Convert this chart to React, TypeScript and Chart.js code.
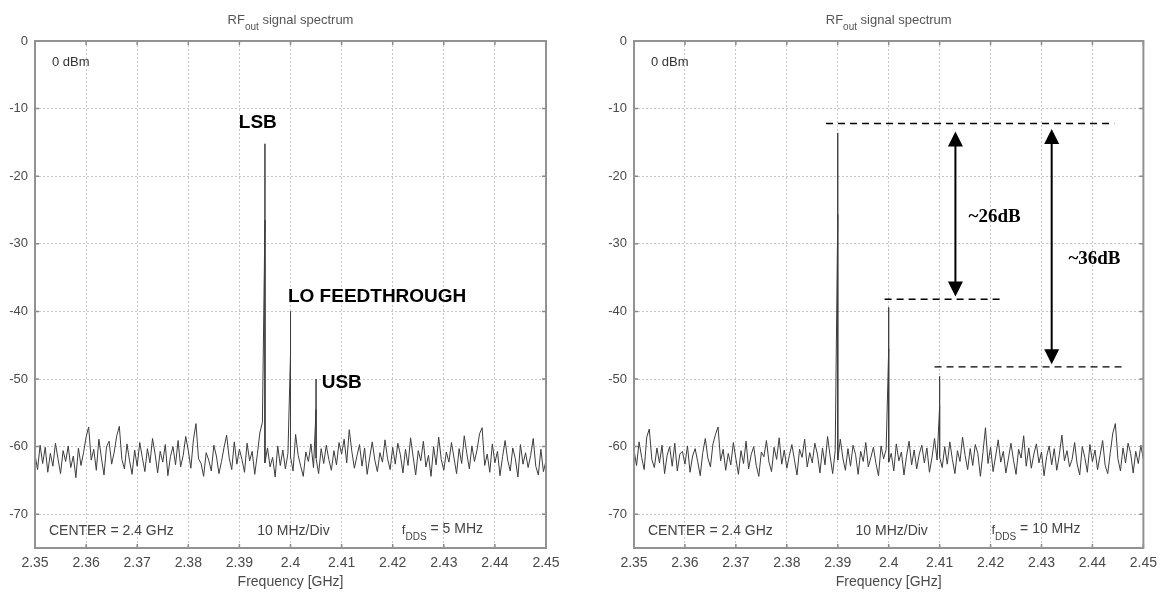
import React, { useEffect, useRef } from "react";
import { Chart, registerables } from "chart.js";

Chart.register(...registerables);

// ---------- data ----------
const FREQ_MIN = 2.35;
const FREQ_MAX = 2.45;
const FREQ_STEP = 0.0005;
const DB_MIN = -75;
const DB_MAX = 0;

const xTickValues = [2.35, 2.36, 2.37, 2.38, 2.39, 2.4, 2.41, 2.42, 2.43, 2.44, 2.45];
const yTickValues = [0, -10, -20, -30, -40, -50, -60, -70];

// noise floor, left spectrum (fDDS = 5 MHz), one value per 0.5 MHz from 2.35 GHz
const leftNoise = [
  -61.2, -63.4, -59.8, -62.5, -60.1, -63.8, -61.0, -62.9, -59.5, -61.8, -64.0, -60.6, -62.2, -59.9, -63.1, -61.4, -64.6, -60.2, -62.8, -60.9,
  -58.6, -57.1, -62.0, -60.4, -63.5, -58.9, -61.7, -64.2, -60.0, -59.2, -62.6, -60.8, -58.4, -57.0, -61.9, -63.3, -59.6, -62.1, -64.1, -60.5,
  -62.9, -59.4, -61.6, -63.7, -60.3, -62.4, -58.8, -61.1, -63.9, -60.7, -62.3, -59.7, -64.3, -61.5, -60.0, -62.7, -59.1, -63.0, -61.3, -58.5,
  -60.6, -63.2, -59.0, -56.6, -61.8, -62.5, -64.4, -60.9, -62.0, -63.6, -59.8, -61.4, -64.0, -62.2, -60.1, -58.3, -61.7, -63.4, -59.3, -62.6,
  -60.4, -61.9, -63.8, -59.5, -62.1, -60.7, -64.1, -61.2, -58.0, -56.4, -62.4, -60.2, -63.0, -61.6, -64.5, -59.9, -62.8, -60.5, -63.3, -61.0,
  -61.5, -63.6, -58.2, -61.3, -62.9, -64.4, -60.8, -62.2, -59.6, -63.1, -61.7, -64.0, -60.3, -62.5, -59.8, -61.9, -63.5, -60.6, -62.7, -59.4,
  -61.1, -58.9, -62.4, -57.5, -60.7, -63.2, -61.4, -59.7, -62.9, -60.2, -64.1, -61.6, -59.3, -62.0, -63.7, -60.9, -62.3, -59.0, -61.8, -63.4,
  -60.1, -62.6, -59.5, -61.2, -63.9, -60.4, -62.8, -58.7, -61.5, -64.2, -60.6, -62.1, -59.2, -63.0, -61.3, -64.4, -60.0, -62.7, -58.6, -61.9,
  -63.5, -60.8, -62.3, -59.4, -61.7, -64.0, -60.3, -62.5, -58.4, -61.0, -63.3, -59.9, -62.2, -60.5, -58.1, -57.2, -62.8, -61.1, -63.8, -59.6,
  -62.4, -60.7, -64.3, -61.5, -59.1, -62.0, -63.6, -60.2, -61.8, -64.5, -59.7, -62.6, -60.9, -63.1, -61.3, -58.8, -62.9, -64.2, -60.4, -63.7,
  -62.1,
];

// noise floor, right spectrum (fDDS = 10 MHz)
const rightNoise = [
  -60.5, -62.8, -59.3, -61.6, -63.4, -58.6, -57.4, -61.9, -63.1, -60.2, -62.4, -59.8, -64.0, -61.3, -60.0, -62.9, -59.5, -63.6, -61.1, -60.7,
  -62.6, -59.9, -63.8, -61.4, -60.3, -62.2, -64.3, -60.9, -58.8, -61.7, -63.0, -59.6, -58.2, -57.1, -62.1, -60.4, -63.5, -61.0, -62.7, -59.4,
  -61.8, -64.1, -60.6, -62.5, -59.2, -63.3, -61.2, -60.0, -62.8, -64.4, -60.8, -61.5, -59.1, -62.3, -63.7, -60.1, -61.9, -58.7, -62.6, -60.5,
  -63.2, -61.3, -59.7, -62.0, -64.2, -60.4, -61.6, -58.9, -63.0, -60.9, -62.4, -59.5, -61.1, -63.9, -60.2, -62.7, -58.5, -61.4, -64.0, -60.6,
  -62.0, -58.9, -61.7, -63.5, -60.3, -62.9, -59.8, -61.2, -64.1, -60.7, -62.2, -59.4, -63.0, -61.6, -60.1, -62.5, -64.3, -59.9, -61.8, -60.4,
  -62.3, -61.0, -63.6, -59.6, -62.1, -60.8, -64.2, -61.4, -59.2, -62.7, -60.5, -63.3, -61.1, -59.8, -62.4, -60.2, -63.8, -61.6, -58.8, -62.0,
  -61.5, -63.1, -60.0, -62.6, -59.3, -61.9, -64.0, -60.6, -62.2, -58.6, -61.3, -63.4, -60.3, -62.8, -59.7, -61.0, -64.4, -60.9, -57.2, -62.5,
  -60.1, -63.7, -61.4, -59.0, -62.3, -60.7, -63.9, -61.8, -59.5, -62.0, -64.1, -60.4, -61.7, -58.4, -62.9, -60.2, -63.2, -61.1, -59.6, -62.4,
  -60.8, -64.3, -61.5, -59.9, -62.7, -60.3, -63.5, -61.2, -58.3, -62.1, -60.6, -63.0, -61.9, -59.4, -62.6, -64.2, -60.0, -61.6, -63.8, -59.7,
  -62.2, -60.5, -63.4, -61.3, -59.1, -62.8, -64.0, -60.9, -58.0, -56.6, -61.8, -63.6, -60.2, -62.4, -59.5, -61.0, -63.9, -60.7, -62.5, -59.8,
  -61.9,
];

// spectral lines: frequency (GHz), peak level (dBm), level of the denser lower part (dBm)
const leftPeakFreq = [2.395, 2.4, 2.405];
const leftPeakTop = [-15.2, -40.0, -50.0];
const leftPeakMid = [-26.5, -46.3, -54.5];

const rightPeakFreq = [2.39, 2.4, 2.41];
const rightPeakTop = [-13.6, -39.4, -49.6];
const rightPeakMid = [-25.7, -45.5, -54.0];

// left annotations (data coordinates)
const leftLabelText = ["LSB", "LO FEEDTHROUGH", "USB"];
const leftLabelFreq = [2.3936, 2.3995, 2.4061];
const leftLabelDb = [-12.1, -37.8, -50.5];

// right annotations (data coordinates)
const rightRefLevel = [-12.2, -38.2, -48.2];
const rightRefFrom = [2.3877, 2.3992, 2.409];
const rightRefTo = [2.4443, 2.4227, 2.4459];
const rightArrowFreq = [2.4131, 2.432];
const rightArrowFrom = [-13.4, -13.0];
const rightArrowTo = [-37.8, -47.8];
const rightDeltaText = ["~26dB", "~36dB"];
const rightDeltaFreq = [2.4208, 2.4404];
const rightDeltaDb = [-26.1, -32.3];

// ---------- helpers ----------
const SANS = '"Liberation Sans", Arial, sans-serif';
const SERIF = '"Liberation Serif", "Times New Roman", serif';
const TEXT = "#4a4a4a";

function buildTrace(noise: number[], pf: number[], pt: number[], pm: number[]) {
  const pts: { x: number; y: number }[] = [];
  noise.forEach((v, i) => {
    const x = FREQ_MIN + i * FREQ_STEP;
    const k = pf.findIndex((f) => Math.abs(f - x) < FREQ_STEP / 2);
    if (k >= 0) {
      pts.push({ x, y: pm[k] }, { x, y: pt[k] }, { x, y: pm[k] }, { x, y: v });
    } else {
      pts.push({ x, y: v });
    }
  });
  return pts;
}

type Part = { t: string; size: number; dy: number };

function drawParts(
  ctx: CanvasRenderingContext2D,
  parts: Part[],
  x: number,
  y: number,
  align: "left" | "center" | "right",
  color: string,
  family: string,
  weight = "normal"
) {
  let total = 0;
  const widths = parts.map((p) => {
    ctx.font = `${weight} ${p.size}px ${family}`;
    const w = ctx.measureText(p.t).width;
    total += w;
    return w;
  });
  let cx = align === "center" ? x - total / 2 : align === "right" ? x - total : x;
  ctx.fillStyle = color;
  ctx.textBaseline = "middle";
  ctx.textAlign = "left";
  parts.forEach((p, i) => {
    ctx.font = `${weight} ${p.size}px ${family}`;
    ctx.fillText(p.t, cx, y + p.dy);
    cx += widths[i];
  });
}

function drawFrame(chart: any) {
  const { ctx, chartArea: ca, scales } = chart;
  ctx.save();
  // inward tick marks
  ctx.strokeStyle = "#8a8a8a";
  ctx.lineWidth = 1.5;
  ctx.beginPath();
  xTickValues.forEach((v) => {
    const px = scales.x.getPixelForValue(v);
    ctx.moveTo(px, ca.bottom);
    ctx.lineTo(px, ca.bottom - 4);
    ctx.moveTo(px, ca.top);
    ctx.lineTo(px, ca.top + 4);
  });
  yTickValues.forEach((v) => {
    const py = scales.y.getPixelForValue(v);
    ctx.moveTo(ca.left, py);
    ctx.lineTo(ca.left + 4, py);
    ctx.moveTo(ca.right, py);
    ctx.lineTo(ca.right - 4, py);
  });
  ctx.stroke();
  // box
  ctx.strokeStyle = "#929292";
  ctx.lineWidth = 2;
  ctx.strokeRect(ca.left, ca.top, ca.right - ca.left, ca.bottom - ca.top);
  // title
  const cx = (ca.left + ca.right) / 2;
  drawParts(
    ctx,
    [
      { t: "RF", size: 13, dy: 0 },
      { t: "out", size: 10, dy: 7 },
      { t: " signal spectrum", size: 13, dy: 0 },
    ],
    cx,
    20,
    "center",
    "#555",
    SANS
  );
  ctx.restore();
}

function drawInfo(chart: any, dds: string) {
  const { ctx, chartArea: ca } = chart;
  ctx.save();
  const cx = (ca.left + ca.right) / 2;
  const yb = ca.bottom - 17;
  drawParts(ctx, [{ t: "0 dBm", size: 13, dy: 0 }], ca.left + 17, ca.top + 21, "left", "#333", SANS);
  drawParts(ctx, [{ t: "CENTER = 2.4 GHz", size: 14, dy: 0 }], ca.left + 14, yb, "left", "#444", SANS);
  drawParts(ctx, [{ t: "10 MHz/Div", size: 14, dy: 0 }], cx + 3, yb, "center", "#444", SANS);
  drawParts(
    ctx,
    [
      { t: "f", size: 13, dy: -1 },
      { t: "DDS", size: 10, dy: 6 },
      { t: " = " + dds, size: 14, dy: -2 },
    ],
    ca.right - 63,
    yb,
    "right",
    "#444",
    SANS
  );
  ctx.restore();
}

const leftPlugin = {
  id: "leftExtras",
  afterDraw(chart: any) {
    drawFrame(chart);
    drawInfo(chart, "5 MHz");
    const { ctx, scales } = chart;
    ctx.save();
    leftLabelText.forEach((t, i) => {
      const px = scales.x.getPixelForValue(leftLabelFreq[i]);
      const py = scales.y.getPixelForValue(leftLabelDb[i]);
      drawParts(ctx, [{ t, size: 19, dy: 0 }], px, py, i === 0 ? "center" : "left", "#000", SANS, "bold");
    });
    ctx.restore();
  },
};

function arrowHead(ctx: CanvasRenderingContext2D, x: number, y: number, dir: number) {
  ctx.beginPath();
  ctx.moveTo(x, y);
  ctx.lineTo(x - 7.5, y + dir * 15);
  ctx.lineTo(x + 7.5, y + dir * 15);
  ctx.closePath();
  ctx.fill();
}

const rightPlugin = {
  id: "rightExtras",
  afterDraw(chart: any) {
    drawFrame(chart);
    drawInfo(chart, "10 MHz");
    const { ctx, scales } = chart;
    ctx.save();
    ctx.strokeStyle = "#000";
    ctx.fillStyle = "#000";
    ctx.lineWidth = 1.4;
    ctx.setLineDash([7, 5]);
    rightRefLevel.forEach((lv, i) => {
      const py = scales.y.getPixelForValue(lv);
      ctx.beginPath();
      ctx.moveTo(scales.x.getPixelForValue(rightRefFrom[i]), py);
      ctx.lineTo(scales.x.getPixelForValue(rightRefTo[i]), py);
      ctx.stroke();
    });
    ctx.setLineDash([]);
    ctx.lineWidth = 2;
    rightArrowFreq.forEach((f, i) => {
      const px = scales.x.getPixelForValue(f);
      const y1 = scales.y.getPixelForValue(rightArrowFrom[i]);
      const y2 = scales.y.getPixelForValue(rightArrowTo[i]);
      ctx.beginPath();
      ctx.moveTo(px, y1 + 10);
      ctx.lineTo(px, y2 - 10);
      ctx.stroke();
      arrowHead(ctx, px, y1, 1);
      arrowHead(ctx, px, y2, -1);
    });
    rightDeltaText.forEach((t, i) => {
      const px = scales.x.getPixelForValue(rightDeltaFreq[i]);
      const py = scales.y.getPixelForValue(rightDeltaDb[i]);
      drawParts(ctx, [{ t, size: 19, dy: 0 }], px, py, "center", "#000", SERIF, "bold");
    });
    ctx.restore();
  },
};

function makeConfig(trace: { x: number; y: number }[], padLeft: number, padRight: number, plugin: any) {
  return {
    type: "line" as const,
    data: {
      datasets: [
        {
          data: trace,
          borderColor: "#3d3d3d",
          borderWidth: 1,
          pointRadius: 0,
          tension: 0,
          fill: false,
        },
      ],
    },
    options: {
      responsive: false,
      animation: false as const,
      devicePixelRatio: 1,
      layout: { padding: { left: padLeft, right: padRight, top: 41, bottom: 0 } },
      plugins: { legend: { display: false }, tooltip: { enabled: false }, title: { display: false } },
      scales: {
        x: {
          type: "linear" as const,
          min: FREQ_MIN,
          max: FREQ_MAX,
          afterBuildTicks: (s: any) => {
            s.ticks = xTickValues.map((v) => ({ value: v }));
          },
          afterFit: (s: any) => {
            s.height = 44;
          },
          ticks: {
            autoSkip: false,
            maxRotation: 0,
            padding: 7,
            color: TEXT,
            font: { family: SANS, size: 14 },
            callback: (v: any) => String(Number(Number(v).toFixed(2))),
          },
          grid: { color: "#c6c6c6", lineWidth: 1, drawTicks: false },
          border: { display: false, dash: [2, 2] },
          title: {
            display: true,
            text: "Frequency [GHz]",
            color: TEXT,
            font: { family: SANS, size: 14 },
            padding: { top: 2, bottom: 1 },
          },
        },
        y: {
          type: "linear" as const,
          min: DB_MIN,
          max: DB_MAX,
          afterBuildTicks: (s: any) => {
            s.ticks = yTickValues.map((v) => ({ value: v }));
          },
          afterFit: (s: any) => {
            s.width = 35;
          },
          ticks: {
            padding: 7,
            color: TEXT,
            font: { family: SANS, size: 13 },
            callback: (v: any) => String(v),
          },
          grid: { color: "#c6c6c6", lineWidth: 1, drawTicks: false },
          border: { display: false, dash: [2, 2] },
        },
      },
    },
    plugins: [plugin],
  };
}

export default function App() {
  const leftRef = useRef<HTMLCanvasElement>(null);
  const rightRef = useRef<HTMLCanvasElement>(null);

  useEffect(() => {
    const c1 = new Chart(
      leftRef.current as HTMLCanvasElement,
      makeConfig(buildTrace(leftNoise, leftPeakFreq, leftPeakTop, leftPeakMid), 0, 36, leftPlugin) as any
    );
    const c2 = new Chart(
      rightRef.current as HTMLCanvasElement,
      makeConfig(buildTrace(rightNoise, rightPeakFreq, rightPeakTop, rightPeakMid), 17, 20, rightPlugin) as any
    );
    return () => {
      c1.destroy();
      c2.destroy();
    };
  }, []);

  return (
    <div style={{ position: "absolute", left: 0, top: 0, width: 1164, height: 592, background: "#fff" }}>
      <canvas ref={leftRef} width={582} height={592} style={{ position: "absolute", left: 0, top: 0 }} />
      <canvas ref={rightRef} width={582} height={592} style={{ position: "absolute", left: 582, top: 0 }} />
    </div>
  );
}
